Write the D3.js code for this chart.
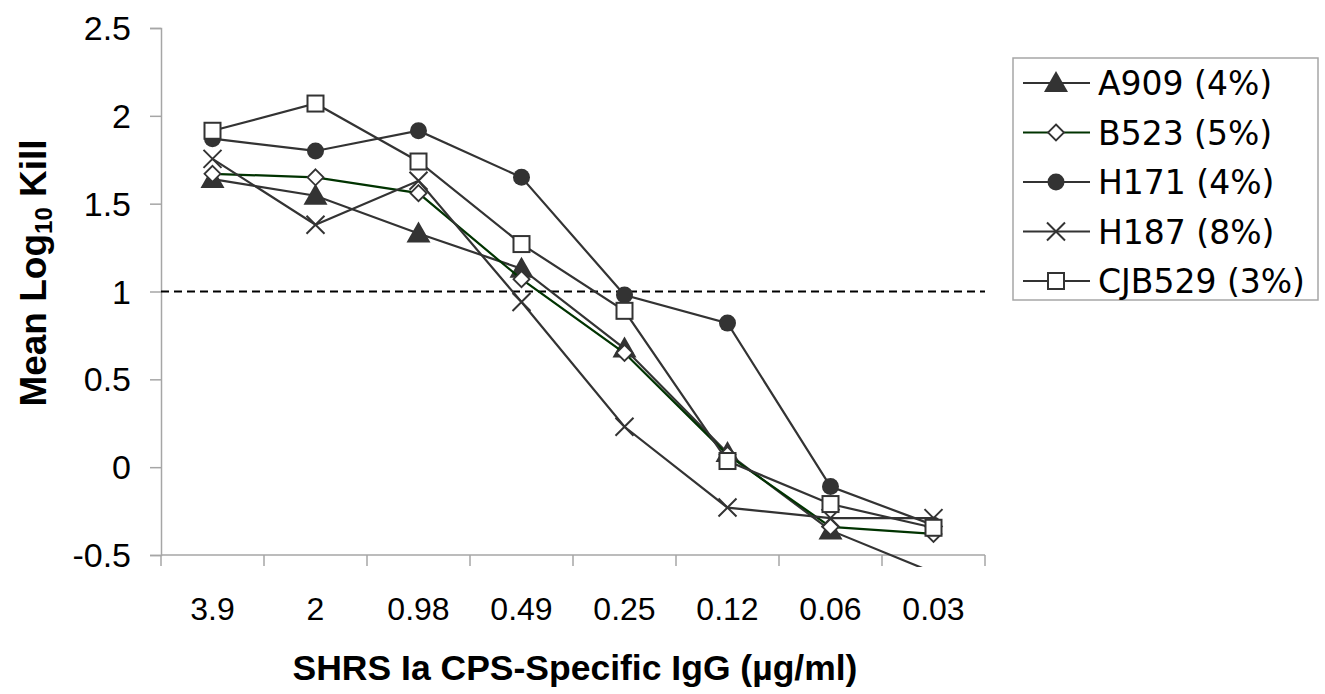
<!DOCTYPE html>
<html>
<head>
<meta charset="utf-8">
<script src="https://cdn.jsdelivr.net/npm/d3@7"></script>
<style>
  body { margin: 0; background: #fff; }
</style>
</head>
<body>
<svg id="chart" width="1325" height="694"></svg>
<script>
const categories = ['3.9', '2', '0.98', '0.49', '0.25', '0.12', '0.06', '0.03'];
const yTicks = [-0.5, 0, 0.5, 1, 1.5, 2, 2.5];

const a909 = [1.64, 1.545, 1.33, 1.13, 0.675, 0.08, -0.36, -0.6];
const b523 = [1.67, 1.65, 1.56, 1.07, 0.65, 0.07, -0.34, -0.38];
const h171 = [1.87, 1.80, 1.915, 1.65, 0.98, 0.82, -0.11, -0.33];
const h187 = [1.755, 1.38, 1.63, 0.94, 0.23, -0.23, -0.29, -0.29];
const cjb529 = [1.915, 2.07, 1.74, 1.27, 0.89, 0.035, -0.21, -0.345];

const seriesNames = ['A909 (4%)', 'B523 (5%)', 'H171 (4%)', 'H187 (8%)', 'CJB529 (3%)'];
const seriesValues = [a909, b523, h171, h187, cjb529];
const seriesMarkers = ['triangle', 'diamond', 'circle', 'cross', 'square'];
const seriesLineColors = ['#333333', '#003300', '#333333', '#333333', '#333333'];
const threshold = 1;

const arial = '"Liberation Sans", Arial, sans-serif';
const verdana = '"DejaVu Sans", Verdana, sans-serif';

const svg = d3.select('#chart');
const margin = { top: 28, left: 161 };
const innerWidth = 985 - margin.left;
const innerHeight = 555 - margin.top;

const xScale = d3.scaleBand().domain(categories).range([margin.left, margin.left + innerWidth]);
const yScale = d3.scaleLinear().domain([-0.5, 2.5]).range([margin.top + innerHeight, margin.top]);
const xPos = c => xScale(c) + xScale.bandwidth() / 2;

// y axis (ticks only, labels drawn separately)
const yAxisG = svg.append('g').attr('transform', `translate(${margin.left}, 0)`)
  .call(d3.axisLeft(yScale).tickValues(yTicks).tickSize(11).tickFormat(''));
yAxisG.select('.domain').attr('stroke', '#a6a6a6').attr('stroke-width', 1.5);
yAxisG.selectAll('.tick line').attr('stroke', '#a6a6a6').attr('stroke-width', 1.5);

svg.selectAll('.ylabel').data(yTicks).enter().append('text')
  .attr('class', 'ylabel')
  .attr('x', 131).attr('y', d => yScale(d) + 12)
  .attr('text-anchor', 'end')
  .style('font-size', '34px').style('font-family', arial)
  .attr('fill', '#000')
  .text(d => String(d));

// x axis: ticks at category boundaries
const baseY = margin.top + innerHeight;
svg.append('line').attr('x1', margin.left).attr('x2', margin.left + innerWidth)
  .attr('y1', baseY).attr('y2', baseY)
  .attr('stroke', '#a6a6a6').attr('stroke-width', 1.5);
const boundaries = d3.range(categories.length + 1).map(i => margin.left + i * xScale.step());
svg.selectAll('.bt').data(boundaries).enter().append('line')
  .attr('x1', d => d).attr('x2', d => d).attr('y1', baseY).attr('y2', baseY + 11)
  .attr('stroke', '#a6a6a6').attr('stroke-width', 1.5);
svg.selectAll('.xlabel').data(categories).enter().append('text')
  .attr('class', 'xlabel')
  .attr('x', d => xPos(d)).attr('y', 620)
  .attr('text-anchor', 'middle').style('font-size', '32px').style('font-family', arial)
  .attr('fill', '#000')
  .text(d => d);

// axis titles
svg.append('text')
  .attr('x', 575).attr('y', 680)
  .attr('text-anchor', 'middle').style('font-size', '35.5px').style('font-family', arial)
  .attr('font-weight', 'bold')
  .text('SHRS Ia CPS-Specific IgG (µg/ml)');

const yTitle = svg.append('text')
  .attr('transform', `translate(46, 273) rotate(-90)`)
  .attr('text-anchor', 'middle').style('font-size', '37px').style('font-family', arial)
  .attr('font-weight', 'bold');
yTitle.append('tspan').text('Mean Log');
yTitle.append('tspan').style('font-size', '24px').attr('dy', 6).text('10');
yTitle.append('tspan').attr('dy', -6).text(' Kill');

// threshold dashed line
svg.append('line')
  .attr('x1', margin.left).attr('x2', margin.left + innerWidth)
  .attr('y1', yScale(threshold)).attr('y2', yScale(threshold))
  .attr('stroke', '#000').attr('stroke-width', 2).attr('stroke-dasharray', '8,5');

// clip so lines running below -0.5 stop just under the axis
svg.append('defs').append('clipPath').attr('id', 'plotclip')
  .append('rect').attr('x', margin.left - 5).attr('y', margin.top - 5)
  .attr('width', innerWidth + 10).attr('height', innerHeight + 17);

const line = d3.line().x((d, i) => xPos(categories[i])).y(d => yScale(d));

function drawMarker(sel, type) {
  if (type === 'triangle') {
    sel.append('path').attr('d', 'M0,-12L12,9L-12,9Z').attr('fill', '#333333');
  } else if (type === 'diamond') {
    sel.append('path').attr('d', 'M0,-8L8,0L0,8L-8,0Z')
      .attr('fill', '#fff').attr('stroke', '#333333').attr('stroke-width', 1.8);
  } else if (type === 'circle') {
    sel.append('circle').attr('r', 8.5).attr('fill', '#333333');
  } else if (type === 'cross') {
    sel.append('path').attr('d', 'M-9,-9L9,9M-9,9L9,-9')
      .attr('stroke', '#333333').attr('stroke-width', 2).attr('fill', 'none');
  } else if (type === 'square') {
    sel.append('rect').attr('x', -8).attr('y', -8).attr('width', 16).attr('height', 16)
      .attr('fill', '#fff').attr('stroke', '#333333').attr('stroke-width', 2);
  }
}

const plot = svg.append('g').attr('clip-path', 'url(#plotclip)');
seriesValues.forEach((vals, s) => {
  const sg = plot.append('g');
  sg.append('path').datum(vals)
    .attr('d', line).attr('fill', 'none')
    .attr('stroke', seriesLineColors[s]).attr('stroke-width', 2.2);
  vals.forEach((v, i) => {
    if (v < -0.5) return;
    const m = sg.append('g').attr('transform', `translate(${xPos(categories[i])}, ${yScale(v)})`);
    drawMarker(m, seriesMarkers[s]);
  });
});

// legend
const legend = svg.append('g').attr('transform', 'translate(1013, 58)');
legend.append('rect').attr('x', 0).attr('y', 0).attr('width', 305).attr('height', 242)
  .attr('fill', '#fff').attr('stroke', '#a6a6a6').attr('stroke-width', 1.5);
seriesNames.forEach((name, s) => {
  const row = legend.append('g').attr('transform', `translate(0, ${25 + s * 49.5})`);
  row.append('line').attr('x1', 10).attr('x2', 77)
    .attr('stroke', seriesLineColors[s]).attr('stroke-width', 2.2);
  drawMarker(row.append('g').attr('transform', 'translate(43, 0)'), seriesMarkers[s]);
  row.append('text').attr('x', 85).attr('y', 12)
    .style('font-family', verdana).style('font-size', '33px')
    .attr('fill', '#000').text(name);
});
</script>
</body>
</html>
